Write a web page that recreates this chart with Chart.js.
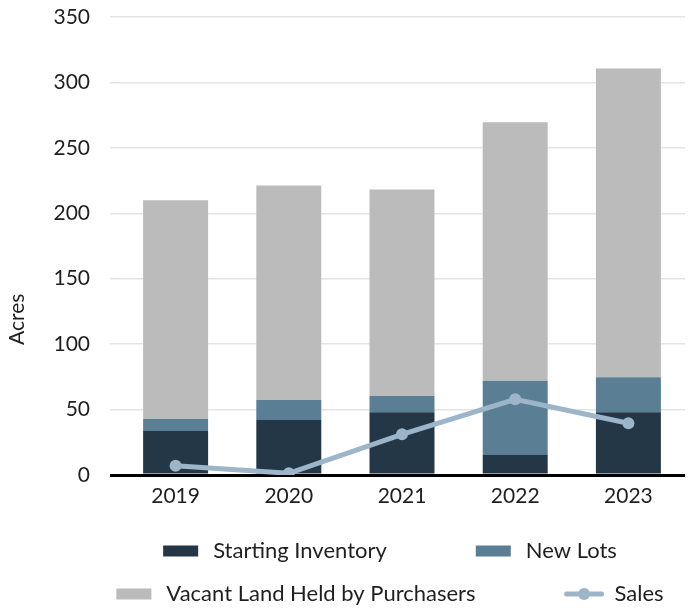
<!DOCTYPE html>
<html>
<head>
<meta charset="utf-8">
<script src="https://cdn.jsdelivr.net/npm/chart.js@4.4.0/dist/chart.umd.min.js"></script>
<style>
  html, body { margin: 0; padding: 0; background: #ffffff; }
  #wrap { width: 692px; height: 608px; position: relative; }
</style>
</head>
<body>
<div id="wrap"><canvas id="c"></canvas></div>
<script>
// ---- data ----
const categories = ['2019', '2020', '2021', '2022', '2023'];
const startingInventory = [33.6, 42, 48, 15.3, 48];
const newLots = [9.1, 15.3, 12.4, 56.8, 26.7];
const vacantLand = [167.3, 164, 157.8, 197.4, 236];
const sales = [7.1, 1.3, 31.1, 57.8, 39.5];
const yTicks = [0, 50, 100, 150, 200, 250, 300, 350];

const seriesNames = ['Starting Inventory', 'New Lots', 'Vacant Land Held by Purchasers', 'Sales'];
const colors = ['#243746', '#5a7f95', '#bbbbbb', '#9db5c8'];

const FONT = 'Lato, "Open Sans", sans-serif';
const TEXT = '#1f1f1f';

const legendPlugin = {
  id: 'customLegend',
  afterDraw(chart) {
    const ctx = chart.ctx;
    const ds = chart.data.datasets;
    ctx.save();
    ctx.font = '22px ' + FONT;
    ctx.textBaseline = 'middle';
    ctx.textAlign = 'left';
    const rows = [[0, 1], [2, 3]];
    const rowY = [551, 594];
    const boxW = 35, boxH = 11, textGap = 15, itemGap = 89, centerX = 390;
    rows.forEach((row, r) => {
      const widths = row.map(i => boxW + textGap + ctx.measureText(ds[i].label).width);
      const total = widths.reduce((a, b) => a + b, 0) + itemGap * (row.length - 1);
      let x = centerX - total / 2;
      const y = rowY[r];
      row.forEach((i, k) => {
        const d = ds[i];
        if (d.type === 'line') {
          ctx.strokeStyle = d.borderColor;
          ctx.lineWidth = 5;
          ctx.lineCap = 'round';
          ctx.beginPath();
          ctx.moveTo(x + 2, y);
          ctx.lineTo(x + boxW + 2, y);
          ctx.stroke();
          ctx.fillStyle = d.borderColor;
          ctx.beginPath();
          ctx.arc(x + boxW / 2 + 2, y, 6, 0, Math.PI * 2);
          ctx.fill();
        } else {
          ctx.fillStyle = d.backgroundColor;
          ctx.fillRect(x, y - boxH / 2, boxW, boxH);
        }
        ctx.fillStyle = TEXT;
        ctx.fillText(d.label, x + boxW + textGap, y);
        x += widths[k] + itemGap;
      });
    });
    // y-axis title
    const area = chart.chartArea;
    ctx.save();
    ctx.font = '21px ' + FONT;
    ctx.translate(17, area.top + (area.bottom - area.top) * 0.66);
    ctx.rotate(-Math.PI / 2);
    ctx.textAlign = 'center';
    ctx.fillStyle = TEXT;
    ctx.fillText('Acres', 0, 0);
    ctx.restore();
    ctx.restore();
  }
};

new Chart(document.getElementById('c'), {
  data: {
    labels: categories,
    datasets: [
      { type: 'bar', label: seriesNames[0], data: startingInventory, backgroundColor: colors[0], stack: 'bars', order: 1 },
      { type: 'bar', label: seriesNames[1], data: newLots, backgroundColor: colors[1], stack: 'bars', order: 1 },
      { type: 'bar', label: seriesNames[2], data: vacantLand, backgroundColor: colors[2], stack: 'bars', order: 1 },
      { type: 'line', label: seriesNames[3], data: sales, borderColor: colors[3], backgroundColor: colors[3],
        borderWidth: 5, pointRadius: 6, pointHoverRadius: 6, pointBackgroundColor: colors[3], pointBorderWidth: 0,
        stack: 'sales', order: 0, tension: 0 }
    ]
  },
  options: {
    responsive: true,
    maintainAspectRatio: false,
    animation: false,
    layout: { padding: { left: 0, right: 7, top: 17, bottom: 103 } },
    datasets: { bar: { barPercentage: 1, categoryPercentage: 0.574 } },
    plugins: { legend: { display: false }, tooltip: { enabled: false } },
    scales: {
      x: {
        stacked: true,
        grid: { display: false, drawTicks: false },
        border: { display: false },
        ticks: { color: TEXT, font: { family: FONT, size: 21 }, padding: 9 },
        afterFit(scale) { scale.height = 30; }
      },
      y: {
        stacked: true,
        min: yTicks[0],
        max: yTicks[yTicks.length - 1],
        afterBuildTicks(scale) { scale.ticks = yTicks.map(v => ({ value: v })); },
        border: { display: false },
        grid: {
          color: c => c.tick && c.tick.value === 0 ? '#000000' : '#e4e4e4',
          lineWidth: c => c.tick && c.tick.value === 0 ? 3 : 1.5,
          drawTicks: true,
          tickLength: 9
        },
        ticks: { color: TEXT, font: { family: FONT, size: 21 }, padding: 20 },
        afterFit(scale) { scale.width = 119; scale.paddingTop = 0; scale.paddingBottom = 0; }
      }
    }
  },
  plugins: [legendPlugin]
});
</script>
</body>
</html>
